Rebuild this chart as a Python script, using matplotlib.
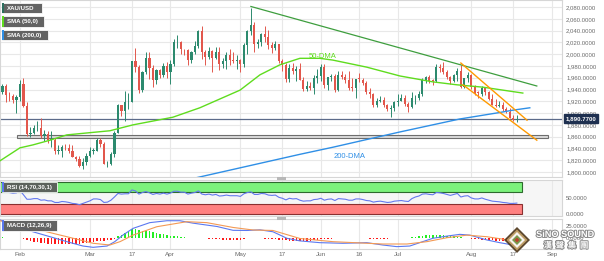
import numpy as np
import matplotlib
matplotlib.use("Agg")
import matplotlib.pyplot as plt
from matplotlib.patches import Rectangle, Polygon
from matplotlib import patheffects as pe
import matplotlib.transforms as mtransforms

plt.rcParams["font.family"] = ["Liberation Sans", "DejaVu Sans"]

# XAU/USD daily candles, 25 Jan -> 18 Aug (weekdays), first candle at index -5
opens = [
    1936, 1946, 1930, 1929, 1923,
    1928, 1950, 1912, 1865, 1867, 1874, 1875, 1861, 1865, 1854, 1855, 1836, 1836, 1842, 1841, 1835, 1825, 1822, 1811, 1817,
    1827, 1836, 1836, 1855, 1847, 1813, 1814, 1831, 1867, 1913, 1904, 1918, 1919, 1989, 1978, 1940, 1970, 1993, 1977, 1956, 1973, 1964, 1980,
    1969, 1984, 2020, 2021, 2008, 2007, 1990, 2003, 2014, 2040, 2004, 1995, 2005, 1994, 2004, 1983, 1989, 1998, 1990, 1988,
    1990, 1983, 2016, 2039, 2050, 2017, 2021, 2034, 2030, 2015, 2011, 2017, 1989, 1982, 1958, 1977, 1971, 1975, 1957, 1941, 1946, 1943, 1959,
    1963, 1978, 1948, 1961, 1963, 1940, 1965, 1961, 1957, 1943, 1942, 1958, 1957, 1951, 1936, 1932, 1913, 1920, 1923, 1913, 1907, 1908,
    1919, 1921, 1925, 1915, 1910, 1925, 1925, 1932, 1957, 1961, 1955, 1954, 1979, 1977, 1969, 1961, 1954, 1965, 1972, 1945, 1959,
    1965, 1944, 1934, 1933, 1942, 1936, 1924, 1914, 1912, 1913, 1907, 1902, 1891, 1889,
]
highs = [
    1949, 1949, 1936, 1933, 1931,
    1957, 1960, 1918, 1877, 1880, 1886, 1891, 1871, 1869, 1870, 1857, 1845, 1846, 1848, 1847, 1845, 1827, 1827, 1823, 1832,
    1843, 1841, 1858, 1858, 1851, 1819, 1834, 1870, 1916, 1913, 1937, 1934, 1989, 2010, 1982, 1972, 2004, 2003, 1982, 1975, 1975, 1985, 1987,
    1990, 2025, 2032, 2022, 2009, 2008, 2005, 2022, 2041, 2048, 2007, 2012, 2007, 2013, 2012, 1994, 2004, 2009, 2004, 1998,
    1992, 2019, 2041, 2079, 2055, 2026, 2036, 2048, 2041, 2021, 2022, 2018, 1992, 1985, 1984, 1985, 1980, 1985, 1961, 1955, 1952, 1965, 1975,
    1983, 1983, 1962, 1967, 1966, 1972, 1971, 1966, 1971, 1959, 1958, 1968, 1959, 1954, 1943, 1934, 1925, 1929, 1927, 1916, 1914, 1921,
    1933, 1932, 1931, 1918, 1935, 1930, 1938, 1960, 1963, 1964, 1958, 1984, 1983, 1987, 1974, 1963, 1967, 1976, 1982, 1960, 1970,
    1966, 1947, 1937, 1946, 1943, 1938, 1933, 1924, 1920, 1918, 1910, 1908, 1897, 1896,
]
lows = [
    1932, 1918, 1920, 1917, 1900,
    1920, 1911, 1861, 1860, 1864, 1870, 1858, 1853, 1850, 1843, 1830, 1830, 1825, 1838, 1832, 1825, 1818, 1809, 1805, 1812,
    1826, 1830, 1835, 1842, 1813, 1809, 1812, 1825, 1866, 1895, 1886, 1907, 1918, 1970, 1934, 1936, 1966, 1958, 1944, 1949, 1959, 1962, 1959,
    1950, 1980, 2010, 2001, 1999, 1981, 1985, 2000, 2011, 1992, 1981, 1991, 1969, 1992, 1974, 1976, 1975, 1982, 1985, 1975,
    1969, 1978, 2000, 2032, 2004, 2011, 2014, 2021, 2008, 2002, 2007, 1985, 1972, 1952, 1952, 1966, 1955, 1957, 1937, 1938, 1939, 1932, 1951,
    1955, 1942, 1939, 1954, 1936, 1937, 1958, 1951, 1940, 1937, 1925, 1953, 1947, 1932, 1926, 1911, 1910, 1919, 1911, 1903, 1893, 1903,
    1912, 1920, 1912, 1902, 1908, 1916, 1922, 1929, 1951, 1951, 1947, 1952, 1969, 1967, 1958, 1950, 1952, 1955, 1942, 1943, 1953,
    1941, 1930, 1925, 1929, 1931, 1922, 1913, 1910, 1910, 1903, 1900, 1891, 1886, 1885,
]
closes = [
    1946, 1930, 1929, 1923, 1928,
    1950, 1912, 1865, 1867, 1874, 1875, 1861, 1865, 1854, 1855, 1836, 1836, 1842, 1841, 1835, 1825, 1822, 1811, 1817, 1827,
    1836, 1836, 1855, 1847, 1813, 1814, 1831, 1867, 1913, 1904, 1918, 1919, 1989, 1978, 1940, 1970, 1993, 1977, 1956, 1973, 1964, 1980, 1969,
    1984, 2020, 2021, 2008, 2007, 1990, 2003, 2014, 2040, 2004, 1995, 2005, 1994, 2004, 1983, 1989, 1998, 1990, 1988, 1990,
    1983, 2016, 2039, 2050, 2017, 2021, 2034, 2030, 2015, 2011, 2017, 1989, 1982, 1958, 1977, 1971, 1975, 1957, 1941, 1946, 1943, 1959, 1963,
    1978, 1948, 1961, 1963, 1940, 1965, 1961, 1957, 1943, 1942, 1958, 1957, 1951, 1936, 1932, 1913, 1920, 1923, 1913, 1907, 1908, 1919,
    1921, 1925, 1915, 1910, 1925, 1925, 1932, 1957, 1961, 1955, 1954, 1979, 1977, 1969, 1961, 1954, 1965, 1972, 1945, 1959, 1965,
    1944, 1934, 1933, 1942, 1936, 1924, 1914, 1912, 1913, 1907, 1902, 1891, 1889, 1890.77,
]
first_idx = -5
last_price = 1890.77

# moving averages (index, value)
sma50_idx = [-5.7, 0, 3.7, 8.6, 13.4, 25.7, 32.3, 43.7, 51.4, 62.9, 68.6, 74.3, 80, 85.7, 89.4, 99.1, 108.6, 118, 124.9, 132.3, 143.7]
sma50_val = [1819, 1841, 1846, 1854, 1863, 1870, 1880, 1893, 1909, 1939, 1965, 1982, 1993, 1993, 1990, 1978, 1963, 1953, 1948, 1944, 1934]
sma200_idx = [45, 80, 89.4, 108.6, 125.7, 137.1, 140.9, 145.7]
sma200_val = [1783, 1830, 1842, 1868, 1890, 1901, 1905, 1909]

# drawn trendlines (index, price)
trend_idx = [66, 147.7]
trend_val = [2081, 1946]
chan_up_idx = [126, 144.9]
chan_up_val = [1985, 1888]
chan_lo_idx = [126.6, 147.7]
chan_lo_val = [1948, 1854]
support_lo, support_hi = 1857, 1862
support_span = [-0.9, 150.9]

rsi = [
    72, 68, 67, 65, 66,
    73, 60, 46, 46, 48, 48, 43, 44, 41, 41, 36, 36, 39, 38, 36, 33, 32, 29, 33, 37,
    41, 47, 47, 45, 36, 37, 43, 53, 64, 62, 63, 63, 75, 72, 62, 67, 70, 66, 61, 64, 62, 65, 62,
    65, 71, 71, 68, 68, 62, 65, 67, 72, 62, 60, 62, 59, 61, 56, 57, 59, 57, 57, 57,
    55, 63, 67, 69, 61, 61, 64, 63, 59, 58, 59, 52, 49, 44, 49, 47, 48, 43, 40, 41, 41, 45, 46,
    49, 43, 46, 47, 42, 48, 47, 46, 43, 43, 47, 47, 45, 42, 41, 37, 39, 40, 38, 36, 37, 40,
    41, 42, 40, 39, 48, 53, 56, 62, 63, 61, 60, 67, 66, 64, 61, 58, 61, 64, 53, 56, 57,
    50, 47, 47, 50, 46, 43, 40, 39, 38, 36, 35, 33, 33, 34,
]
macd_hist = [
    2, 1, 0.5, -0.5, -1,
    1, -2, -5, -7, -8, -9, -10, -11, -12, -12, -13, -13, -13, -12, -12, -12, -12, -12, -11, -10,
    -9, -8, -7, -6, -6, -5, -4, -2, 4, 7, 11, 14, 18, 18, 16, 15, 15, 14, 12, 11, 9, 8, 7,
    5, 5, 4, 3, 2, 1, 1, 1, 1, 0.5, -1, -2, -2, -3, -3, -4, -4, -4, -5, -5,
    -4, -2, 0.5, 1, 0.5, -1, -1, -2, -2, -2, -3, -4, -5, -5, -6, -6, -6, -7, -7, -7, -6, -5, -4,
    -3, -3, -2, -2, -1, -1, -1, -1, -1, 0.5, 0.5, 0.5, -1, -1, -2, -2, -2, -2, -2, -2, -1, -1,
    -1, 0.5, 0.5, 1, 2, 3, 4, 5, 6, 6, 6, 7, 6, 6, 5, 4, 4, 3, 2, 1, 0.5,
    -2, -3, -3, -4, -4, -5, -5, -6, -6, -6, -7, -7, -7, -6,
]
macd_idx = [-5.7, 0, 3.7, 8.6, 13.4, 18, 20.9, 24.9, 27.1, 29.4, 32.3, 37.1, 42, 45.7, 49.4, 56.3, 60.9, 64.9, 68.6, 72.3, 76.3, 80,
            85.7, 92.3, 99.1, 103.7, 107.7, 111.4, 115.1, 118, 122, 125.7, 128.6, 133.4, 137.1, 140.9, 142]
macd_val = [37.5, 23.5, 13, 2.7, -7.6, -16.7, -19.4, -16.7, -7.6, 6, 20, 32, 36, 36, 31, 24, 16, 15.7, 17, 13, -0.6, -6,
            -9.7, -11, -9.7, -14.6, -18, -16.7, -7.6, -0.6, 4, 7.6, 6, -4, -9.7, -14.6, -16]
signal_idx = [-5.7, 3.7, 13.4, 20.9, 25.7, 28.6, 32.3, 39.1, 47.7, 53.4, 60.9, 66.6, 72.3, 80, 89.4, 103.7, 110.6, 116.3, 122,
              127.7, 133.4, 140.9, 142]
signal_val = [36, 20, 2.7, -11, -14.6, -7.6, 6, 23.5, 34, 32, 22, 16.7, 15.7, -1, -7.6, -12.5, -12.5, -7.6, 0.6, 6, 2.7, -5.6, -7]

tick_pos = [0, 20, 32, 43, 63, 75, 86, 97, 108, 129, 141, 152]
tick_lab = ["Feb", "Mar", "17", "Apr", "May", "17", "Jun", "16", "Jul", "Aug", "17", "Sep"]

W, H = 604, 261
fig = plt.figure(figsize=(W / 100, H / 100), dpi=100)
fig.patch.set_facecolor("white")


def box(x0, y0, x1, y1):
    # pixel box (top-left origin) -> figure rect
    return [x0 / W, 1 - y1 / H, (x1 - x0) / W, (y1 - y0) / H]


ax = fig.add_axes(box(0, 0, 562, 177))
ax_rsi = fig.add_axes(box(0, 180, 562, 216), sharex=ax)
ax_macd = fig.add_axes(box(0, 219, 562, 249), sharex=ax)

grid_c = "#e8e8e8"
txt_c = "#6a6a6a"
for a in (ax, ax_rsi, ax_macd):
    for s in a.spines.values():
        s.set_color("#d6d6d6")
        s.set_linewidth(0.8)
    a.yaxis.tick_right()
    a.tick_params(axis="both", length=0, labelsize=4.3, colors=txt_c, pad=3)
    for t in tick_pos:
        a.axvline(t, color=grid_c, lw=0.8, zorder=0)
ax_rsi.set_facecolor("#f6f6f6")
plt.setp(ax.get_xticklabels(), visible=False)
plt.setp(ax_rsi.get_xticklabels(), visible=False)

ax.set_xlim(-5.7, 154.9)
ax.set_xticks(tick_pos)
ax_macd.set_xticklabels(tick_lab)
ax_macd.tick_params(axis="x", pad=2, labelsize=4.6)

# main panel
ax.set_ylim(1791.5, 2092)
price_ticks = list(range(1800, 2081, 20))
ax.set_yticks(price_ticks)
ax.set_yticklabels([f"{p:,.4f}" for p in price_ticks])
for p in price_ticks:
    ax.axhline(p, color=grid_c, lw=0.8, zorder=0)

x = np.arange(len(closes)) + first_idx
o = np.array(opens, dtype=float)
c = np.array(closes, dtype=float)
up = c >= o
colors = np.where(up, "#2c8a6e", "#e2574c")
ax.vlines(x, lows, highs, colors=colors, lw=0.7, zorder=3)
body = np.where(np.abs(c - o) < 1.2, 1.2, c - o)
ax.bar(x, body, bottom=o, width=0.62, color=colors, zorder=4, linewidth=0)

ax.add_patch(Rectangle((support_span[0], support_lo), support_span[1] - support_span[0], support_hi - support_lo,
                       facecolor="#dcdcdc", edgecolor="#6e6e6e", lw=0.8, zorder=2))
ax.axhline(last_price, color="#5c6b8a", lw=0.9, zorder=2)

ax.plot(sma50_idx, sma50_val, color="#5fdc1e", lw=1.0, zorder=5)
ax.plot(sma200_idx, sma200_val, color="#2f8fe6", lw=1.0, zorder=5)
ax.plot(trend_idx, trend_val, color="#3e9e3e", lw=0.9, zorder=5)
ax.plot(chan_up_idx, chan_up_val, color="#ff9a00", lw=1.0, zorder=6)
ax.plot(chan_lo_idx, chan_lo_val, color="#ff9a00", lw=1.0, zorder=6)

ax.text(82.5, 1996, "50-DMA", color="#5fdc1e", fontsize=5.5, va="center", ha="left", zorder=7)
ax.text(89.5, 1827, "200-DMA", color="#2f8fe6", fontsize=5.5, va="center", ha="left", zorder=7)

trans = mtransforms.blended_transform_factory(ax.transAxes, ax.transData)
ax.text(1.006, last_price, f"{last_price:,.4f}", transform=trans, fontsize=4.4, color="white",
        fontweight="bold", va="center", ha="left", zorder=10, clip_on=False,
        bbox=dict(boxstyle="square,pad=0.3", facecolor="#1e3050", edgecolor="#1e3050"))

# RSI panel
ax_rsi.set_ylim(-6.25, 106)
ax_rsi.set_yticks([0, 50])
ax_rsi.set_yticklabels(["0.0000", "50.0000"])
ax_rsi.add_patch(Rectangle((-5.7, 70), 149.1, 30, facecolor="#7cf27c", edgecolor="#2d6a2d", lw=0.8, zorder=2))
ax_rsi.add_patch(Rectangle((-5.7, 0), 149.1, 30, facecolor="#ff8080", edgecolor="#8a3030", lw=0.8, zorder=2))
ax_rsi.plot(x, rsi, color="#6378ee", lw=0.8, zorder=4)

# MACD panel
ax_macd.set_ylim(-22.9, 39.6)
ax_macd.set_yticks([0, 25])
ax_macd.set_yticklabels(["0.0000", "25.0000"])
hist = np.array(macd_hist, dtype=float)
ax_macd.bar(x, hist, width=0.4, color=np.where(hist >= 0, "#22ee22", "#ff1a1a"), zorder=3, linewidth=0)
ax_macd.plot(macd_idx, macd_val, color="#5b78f0", lw=0.8, zorder=4)
ax_macd.plot(signal_idx, signal_val, color="#f39a55", lw=0.8, zorder=4)


# indicator tags in the corners
def tag(x0, y0, x1, y1, label, stripe):
    fig.patches.append(Rectangle((x0 / W, 1 - y1 / H), (x1 - x0) / W, (y1 - y0) / H, transform=fig.transFigure,
                                 facecolor="#5b5b5b", edgecolor="white", lw=0.6, zorder=20, alpha=0.95))
    fig.patches.append(Rectangle((x0 / W, 1 - y1 / H), 1.5 / W, (y1 - y0) / H, transform=fig.transFigure,
                                 facecolor=stripe, edgecolor="none", zorder=21))
    fig.text((x0 + 5) / W, 1 - (y0 + y1) / 2 / H, label, color="white", fontsize=4.4, fontweight="bold",
             va="center", ha="left", zorder=22)


tag(2, 3, 42, 13, "XAU/USD", "#2c6e5e")
tag(2, 16, 44, 27, "SMA (50,0)", "#5fdc1e")
tag(2, 30, 48, 40, "SMA (200,0)", "#2f8fe6")
tag(2, 182, 57, 192, "RSI (14,70,30,1)", "#5b78f0")
tag(2, 220, 57, 231, "MACD (12,26,9)", "#5b78f0")

# panel drag handles
for yy in (177, 217):
    fig.patches.append(Rectangle((277 / W, 1 - (yy + 3) / H), 9 / W, 3 / H, transform=fig.transFigure,
                                 facecolor="#b8b8b8", edgecolor="none", zorder=20))

# watermark logo
cx, cy = 517 / W, 1 - 240 / H
for r, col in ((13, "#4a3418"), (10.5, "#c9a66b"), (8, "#ffffff"), (5, "#6b8f3a"), (2.5, "#c03a2a")):
    pts = [(cx, cy + r / H), (cx + r / W, cy), (cx, cy - r / H), (cx - r / W, cy)]
    fig.patches.append(Polygon(pts, closed=True, transform=fig.transFigure, facecolor=col,
                               edgecolor="none", zorder=25, alpha=0.9))
stroke = [pe.withStroke(linewidth=1.4, foreground="#8a8a8a")]
fig.text(565 / W, 1 - 234.5 / H, "SiNO SOUND", color="white", fontsize=6.6, fontweight="bold",
         ha="center", va="center", zorder=26, path_effects=stroke)
fig.text(566 / W, 1 - 245.5 / H, "漢  聲  集  團", color="white", fontsize=6.0, fontweight="bold",
         family=["Noto Sans CJK TC", "DejaVu Sans"], ha="center", va="center", zorder=26, path_effects=stroke)

fig.savefig("out.png", dpi=100, facecolor="white")
